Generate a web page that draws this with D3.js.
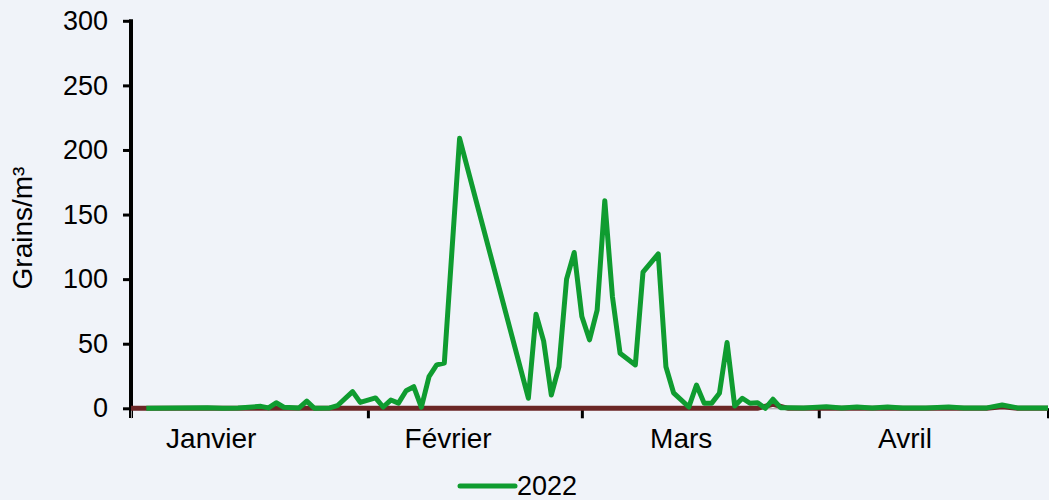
<!DOCTYPE html>
<html>
<head>
<meta charset="utf-8">
<script src="https://cdn.jsdelivr.net/npm/d3@7"></script>
<style>
  body { margin: 0; background: #f0f3f9; }
  svg { display: block; font-family: "Liberation Sans", Arial, sans-serif; }
</style>
</head>
<body>
<svg id="svg" width="1049" height="500"></svg>
<script>
// day of year (0 = 1 janvier 2022) and grains/m3
const days2022 = [2, 6, 10, 12, 14, 17, 18, 19, 20, 22, 23, 24, 26, 27, 29, 30, 32, 33, 34, 35,
  36, 37, 38, 39, 40, 41, 43, 52, 53, 54, 55, 56, 57, 58, 59, 60, 61, 62, 63, 64,
  66, 67, 69, 70, 71, 73, 74, 75, 76, 77, 78, 79, 80, 81, 82, 83, 84, 85, 86, 88,
  91, 93, 95, 97, 99, 101, 104, 107, 109, 112, 114, 116, 120];
const values2022 = [0, 0.3, 0.5, 0, 0.3, 1.5, 0.3, 4.3, 0.8, 0.3, 5.6, 0, 0.3, 2, 12.9, 4.6, 8, 1, 6.4, 4,
  13.6, 16.7, 0.8, 24.5, 33.6, 35, 209, 7.8, 72.9, 52, 10.3, 32, 100, 120.6, 71, 53, 76, 160.7, 86.5, 42.6,
  33.6, 105.4, 119.6, 32.2, 12, 1, 18, 4, 4, 11.6, 50.9, 1.8, 7.8, 3.9, 4.3, 0, 7, 0.5, 0.5, 0.3,
  1.2, 0.3, 1, 0.3, 1, 0.3, 0.3, 1, 0.3, 0.3, 2.5, 0.3, 0.3];

// second (dark red) series, almost always zero
const daysRef = [0, 82, 84, 86, 112, 114, 116, 120];
const valuesRef = [0, 0, 3, 0, 0, 1.2, 0, 0];

const monthLabels = ['Janvier', 'Février', 'Mars', 'Avril'];
const monthLabelDays = [10.5, 41.5, 72, 101.3];
const yTicks = [0, 50, 100, 150, 200, 250, 300];
const legendLabel = '2022';

const start = new Date(2022, 0, 1);
const end = new Date(2022, 4, 1);
const toDate = d => d3.timeHour.offset(start, Math.round(d * 24));

const svg = d3.select('#svg');

const x = d3.scaleTime().domain([start, end]).range([131, 1048]);
const y = d3.scaleLinear().domain([0, 300]).range([408.3, 20.8]);

const green = '#0f9c30';
const red = '#6b2626';

// y axis
const yAxis = svg.append('g')
  .attr('transform', 'translate(131,0)')
  .call(d3.axisLeft(y).tickValues(yTicks).tickSize(8).tickPadding(15).tickFormat(d3.format('d')));
yAxis.select('.domain').remove();
yAxis.selectAll('line').attr('stroke', '#000').attr('stroke-width', 3);
yAxis.selectAll('text').attr('font-size', 27).attr('fill', '#000').attr('font-family', '"Liberation Sans", Arial, sans-serif');

svg.append('line')
  .attr('x1', 131).attr('x2', 131)
  .attr('y1', y(300) - 1.5).attr('y2', 418)
  .attr('stroke', '#000').attr('stroke-width', 4);

// x axis
const months = d3.timeMonth.range(start, d3.timeDay.offset(end, 1));
const xAxis = svg.append('g')
  .attr('transform', 'translate(0,408.3)')
  .call(d3.axisBottom(x).tickValues(months.slice(1)).tickSize(10).tickFormat(''));
xAxis.select('.domain').attr('stroke', '#999').attr('stroke-width', 1);
xAxis.selectAll('line').attr('stroke', '#000').attr('stroke-width', 3);

svg.append('g').selectAll('text')
  .data(monthLabels)
  .enter()
  .append('text')
  .attr('x', (d, i) => x(toDate(monthLabelDays[i])))
  .attr('y', 448)
  .attr('text-anchor', 'middle')
  .attr('font-size', 28)
  .text(d => d);

// y title
svg.append('text')
  .attr('transform', 'translate(32,228) rotate(-90)')
  .attr('text-anchor', 'middle')
  .attr('font-size', 28)
  .text('Grains/m³');

const line = d3.line()
  .x(d => x(toDate(d[0])))
  .y(d => y(d[1]));

svg.append('path')
  .datum(daysRef.map((d, i) => [d, valuesRef[i]]))
  .attr('fill', 'none')
  .attr('stroke', red)
  .attr('stroke-width', 5)
  .attr('d', line);

svg.append('path')
  .datum(days2022.map((d, i) => [d, values2022[i]]))
  .attr('fill', 'none')
  .attr('stroke', green)
  .attr('stroke-width', 5)
  .attr('stroke-linejoin', 'round')
  .attr('d', line);

// legend
const legend = svg.append('g').attr('transform', 'translate(460,486)');
legend.append('line')
  .attr('x1', 0).attr('x2', 55)
  .attr('stroke', green).attr('stroke-width', 5)
  .attr('stroke-linecap', 'round');
legend.append('text')
  .attr('x', 57).attr('y', 8.5)
  .attr('font-size', 27)
  .text(legendLabel);
</script>
</body>
</html>
